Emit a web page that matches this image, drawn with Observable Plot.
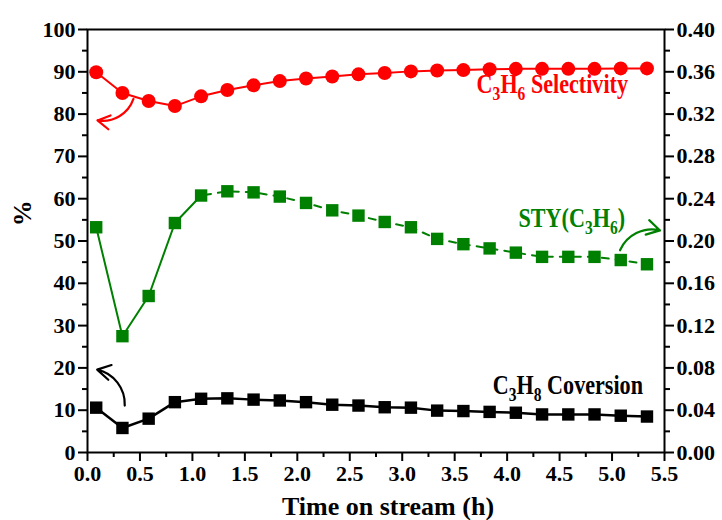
<!DOCTYPE html>
<html>
<head>
<meta charset="utf-8">
<script src="https://cdn.jsdelivr.net/npm/d3@7"></script>
<script src="https://cdn.jsdelivr.net/npm/@observablehq/plot@0.6"></script>
<style>
  html, body { margin: 0; padding: 0; background: #fff; }
  svg { display: block; }
  svg, svg text, svg tspan { font-family: "Liberation Serif", "Times New Roman", Times, serif !important; font-weight: bold; }
</style>
</head>
<body>
<div id="chart"></div>
<script>
// Time on stream (h)
const time = [0.083, 0.333, 0.583, 0.833, 1.083, 1.333, 1.583, 1.833, 2.083, 2.333, 2.583,
              2.833, 3.083, 3.333, 3.583, 3.833, 4.083, 4.333, 4.583, 4.833, 5.083, 5.333];
// C3H6 selectivity (%)
const selectivity = [89.9, 85.0, 83.1, 81.9, 84.2, 85.7, 86.8, 87.8, 88.4, 88.9, 89.4,
                     89.7, 90.1, 90.3, 90.4, 90.6, 90.7, 90.7, 90.7, 90.7, 90.8, 90.8];
// STY(C3H6) (right axis)
const sty = [0.213, 0.110, 0.148, 0.217, 0.243, 0.247, 0.246, 0.242, 0.236, 0.229, 0.224,
             0.218, 0.213, 0.202, 0.197, 0.193, 0.189, 0.185, 0.185, 0.185, 0.182, 0.178];
// C3H8 conversion (%)
const conversion = [10.6, 5.8, 8.0, 11.9, 12.7, 12.8, 12.5, 12.3, 11.9, 11.3, 11.1,
                    10.7, 10.6, 9.9, 9.8, 9.6, 9.4, 9.0, 9.0, 9.0, 8.7, 8.5];

// Axis ticks
const xTicks = [0, 0.5, 1.0, 1.5, 2.0, 2.5, 3.0, 3.5, 4.0, 4.5, 5.0, 5.5];
const xMinor = [0.25, 0.75, 1.25, 1.75, 2.25, 2.75, 3.25, 3.75, 4.25, 4.75, 5.25];
const yTicks = [0, 10, 20, 30, 40, 50, 60, 70, 80, 90, 100];
const yMinor = [5, 15, 25, 35, 45, 55, 65, 75, 85, 95];
const rightMax = 0.40; // right axis max corresponds to 100 on the left axis
const xTitle = "Time on stream (h)";
const yTitle = "%";

// Annotations
const labelText = ["C{3}H{6} Selectivity", "STY(C{3}H{6})", "C{3}H{8} Coversion"];
const labelColor = ["#ff0000", "#008000", "#000000"];
const labelX = [5.152, 5.124, 5.295];
const labelY = [85.1, 53.2, 13.9];
const arrowFrom = [[0.438, 83.6], [5.076, 47.8], [0.355, 11.1]];
const arrowTo = [[0.095, 78.5], [5.457, 52.5], [0.092, 19.6]];
const arrowBend = [40, 40, -40];

const styScale = 100 / rightMax;
const rows = time.map((t, i) => ({t, sel: selectivity[i], sty: sty[i] * styScale, conv: conversion[i]}));
const styRowsSolid = rows.slice(0, 5);
const styRowsDashed = rows.slice(4);

const marks = [
  Plot.frame({stroke: "#000", strokeWidth: 2}),
  Plot.axisX(xTicks, {tickSize: 9, tickPadding: 4, strokeWidth: 2, tickFormat: d => d.toFixed(1),
    label: xTitle, labelAnchor: "center", labelOffset: 62, labelArrow: "none"}),
  Plot.axisX(xMinor, {tickSize: 5, strokeWidth: 2, tickFormat: () => "", label: null}),
  Plot.axisY(yTicks, {tickSize: 9, tickPadding: 3, strokeWidth: 2, tickFormat: d => String(d), label: null}),
  Plot.axisY(yMinor, {tickSize: 5, strokeWidth: 2, tickFormat: () => "", label: null}),
  Plot.axisY(yTicks, {anchor: "right", tickSize: 9, tickPadding: 3, strokeWidth: 2,
    tickFormat: d => (d / styScale).toFixed(2), label: null}),
  Plot.axisY(yMinor, {anchor: "right", tickSize: 5, strokeWidth: 2, tickFormat: () => "", label: null}),
  Plot.text([yTitle], {frameAnchor: "left", y: 53.5, text: d => d, rotate: -90, dx: -65,
    fontSize: 26, fontWeight: "bold", fill: "#000"}),

  Plot.line(rows, {x: "t", y: "sel", stroke: "#ff0000", strokeWidth: 2}),
  Plot.dot(rows, {x: "t", y: "sel", r: 7, fill: "#ff0000", symbol: "circle"}),

  Plot.line(styRowsSolid, {x: "t", y: "sty", stroke: "#008000", strokeWidth: 2}),
  Plot.line(styRowsDashed, {x: "t", y: "sty", stroke: "#008000", strokeWidth: 2, strokeDasharray: "7,7", strokeDashoffset: -3}),
  Plot.dot(rows, {x: "t", y: "sty", r: 7, fill: "#008000", symbol: "square"}),

  Plot.line(rows, {x: "t", y: "conv", stroke: "#000", strokeWidth: 2.5}),
  Plot.dot(rows, {x: "t", y: "conv", r: 7, fill: "#000", symbol: "square"})
];

labelText.forEach((txt, i) => {
  marks.push(Plot.text([txt], {x: labelX[i], y: labelY[i], text: d => d, fill: labelColor[i],
    textAnchor: "end", lineAnchor: "bottom", fontSize: 27, fontWeight: "bold"}));
  marks.push(Plot.arrow([0], {x1: arrowFrom[i][0], y1: arrowFrom[i][1], x2: arrowTo[i][0], y2: arrowTo[i][1],
    bend: arrowBend[i], stroke: labelColor[i], strokeWidth: 2.2, headLength: 11}));
});

const chart = Plot.plot({
  width: 722,
  height: 520,
  marginTop: 29,
  marginRight: 58,
  marginBottom: 68,
  marginLeft: 87,
  style: {fontFamily: "Liberation Serif, Times New Roman, serif", fontSize: "22px", fontWeight: "bold", color: "#000", background: "#fff"},
  x: {domain: [0, 5.5]},
  y: {domain: [0, 100]},
  marks
});

document.getElementById("chart").appendChild(chart);

// Larger axis title, as in the original, nudged slightly right
Array.from(chart.querySelectorAll("text")).filter(t => t.textContent === xTitle)
  .forEach(t => {
    t.setAttribute("font-size", "26");
    t.setAttribute("dx", "12");
  });

// Render subscripts and condense annotation text like the original
const SVGNS = "http://www.w3.org/2000/svg";
Array.from(chart.querySelectorAll("text")).filter(t => t.textContent.includes("{")).forEach(t => {
  const raw = t.textContent;
  while (t.firstChild) t.removeChild(t.firstChild);
  const parts = raw.split(/(\{\d\})/).filter(p => p.length);
  let lowered = false;
  parts.forEach(p => {
    const sp = document.createElementNS(SVGNS, "tspan");
    const m = p.match(/^\{(\d)\}$/);
    if (m) {
      sp.textContent = m[1];
      sp.setAttribute("font-size", "19");
      if (!lowered) { sp.setAttribute("dy", "7"); lowered = true; }
    } else {
      sp.textContent = p;
      if (lowered) { sp.setAttribute("dy", "-7"); lowered = false; }
    }
    t.appendChild(sp);
  });
  let tr = t.getAttribute("transform") || "";
  const tx = t.getAttribute("x"), ty = t.getAttribute("y");
  if (tx != null || ty != null) {
    tr += ` translate(${tx || 0},${ty || 0})`;
    t.removeAttribute("x"); t.removeAttribute("y");
  }
  t.setAttribute("transform", tr + " scale(0.82,1)");
});
</script>
</body>
</html>
